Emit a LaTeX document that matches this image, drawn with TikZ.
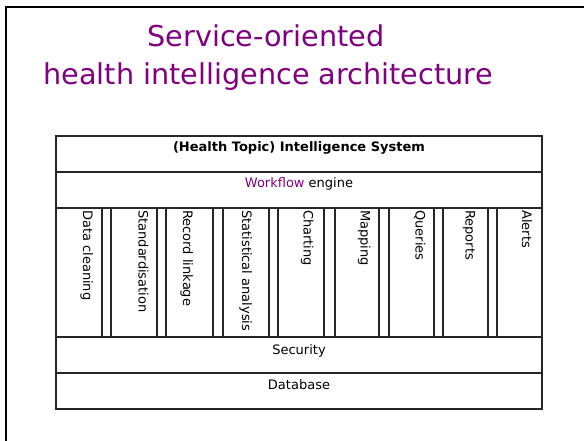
\documentclass[tikz,border=0pt]{standalone}
\usepackage{fontspec}
\setmainfont{DejaVu Sans}
\definecolor{slidepurple}{HTML}{800080}

\begin{document}
\begin{tikzpicture}[x=1pt, y=-1pt,
	cell/.style={draw=black!85, line width=1.1pt},
	rowtext/.style={anchor=base, inner sep=0pt, font=\fontsize{13}{15}\selectfont},
	coltext/.style={anchor=base west, rotate=-90, inner sep=0pt, font=\fontsize{13}{15}\selectfont},
	titletext/.style={slidepurple, anchor=base, inner sep=0pt, font=\fontsize{28.7}{38}\selectfont}]
	\useasboundingbox (0,0) rectangle (584,441);
	\draw[line width=2pt] (6,441) |- (584,7);
	% slide title
	\node[titletext] (title1) at (266,47) {Service-oriented};
	\node[titletext] (title2) at (268,85) {health intelligence architecture};
	% horizontal layers
	\draw[cell] (56,136) rectangle (542,172);
	\node[rowtext, font=\fontsize{13}{15}\selectfont\bfseries] (system) at (299,151.5) {(Health Topic) Intelligence System};
	\draw[cell] (56,172) rectangle (542,208);
	\node[rowtext] (workflow) at (299,187.5) {\textcolor{slidepurple}{Workflow} engine};
	\draw[cell] (56,337) rectangle (542,373);
	\node[rowtext] (security) at (299,354.5) {Security};
	\draw[cell] (56,373) rectangle (542,409);
	\node[rowtext] (database) at (299,389.5) {Database};
	% service columns
	\draw[cell] (56,208) rectangle (542,337);
	\draw[cell] (56,208) rectangle (102,337);
	\node[coltext] (cleaning) at (83.2,210) {Data cleaning};
	\draw[cell] (111,208) rectangle (157,337);
	\node[coltext] (standard) at (138.5,210) {Standardisation};
	\draw[cell] (166,208) rectangle (213,337);
	\node[coltext] (linkage) at (183.2,210) {Record linkage};
	\draw[cell] (223,208) rectangle (269,337);
	\node[coltext] (stats) at (242.2,210) {Statistical analysis};
	\draw[cell] (278,208) rectangle (324,337);
	\node[coltext] (charting) at (303.5,210) {Charting};
	\draw[cell] (335,208) rectangle (379,337);
	\node[coltext] (mapping) at (360.5,210) {Mapping};
	\draw[cell] (389,208) rectangle (434,337);
	\node[coltext] (queries) at (415.5,210) {Queries};
	\draw[cell] (443,208) rectangle (488,337);
	\node[coltext] (reports) at (465.5,210) {Reports};
	\draw[cell] (497,208) rectangle (542,337);
	\node[coltext] (alerts) at (522.2,210) {Alerts};
\end{tikzpicture}
\end{document}
